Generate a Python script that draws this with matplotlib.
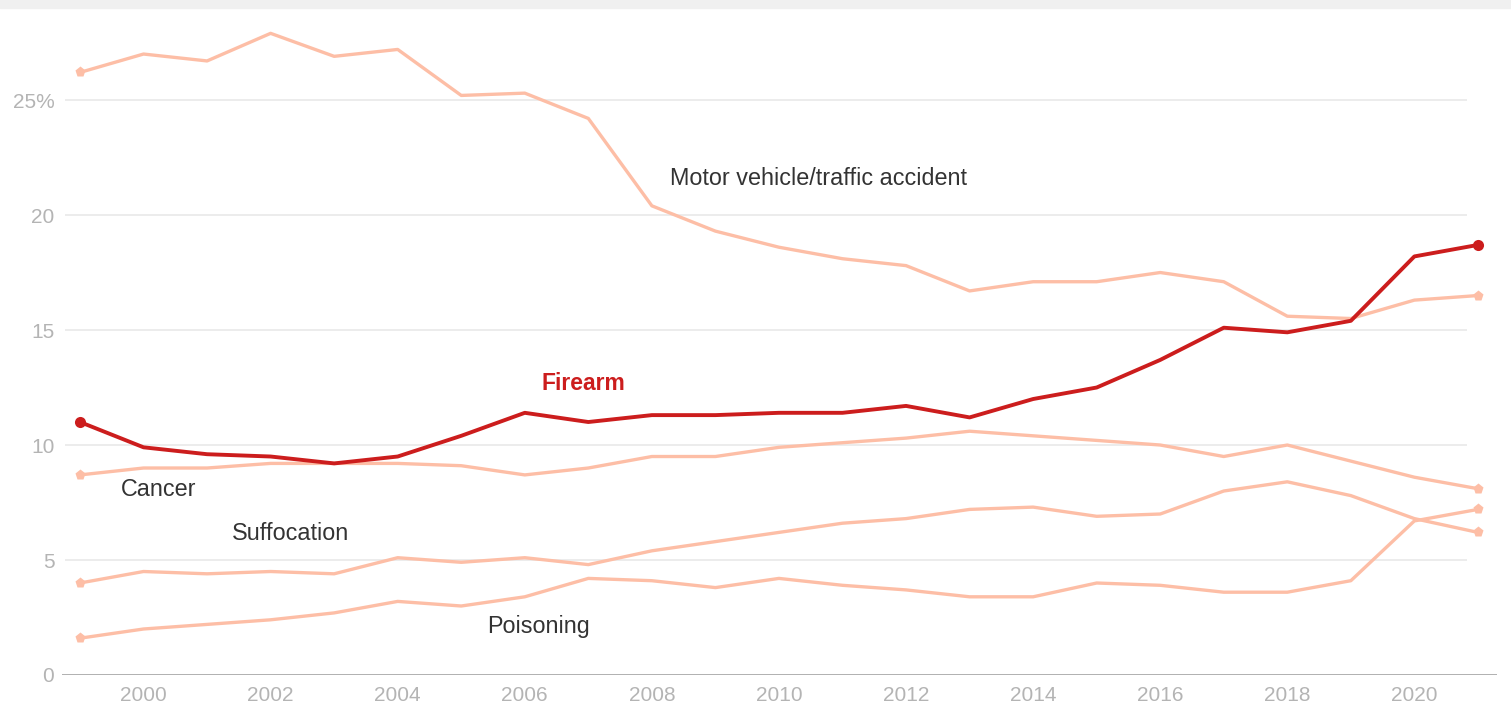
import matplotlib
matplotlib.use("Agg")
import matplotlib.pyplot as plt
from matplotlib.patches import Rectangle

# Leading causes of death, share of deaths (%) by year
years = list(range(1999, 2022))

firearm = [11.0, 9.9, 9.6, 9.5, 9.2, 9.5, 10.4, 11.4, 11.0, 11.3, 11.3, 11.4,
           11.4, 11.7, 11.2, 12.0, 12.5, 13.7, 15.1, 14.9, 15.4, 18.2, 18.7]
motor_vehicle = [26.2, 27.0, 26.7, 27.9, 26.9, 27.2, 25.2, 25.3, 24.2, 20.4,
                 19.3, 18.6, 18.1, 17.8, 16.7, 17.1, 17.1, 17.5, 17.1, 15.6,
                 15.5, 16.3, 16.5]
cancer = [8.7, 9.0, 9.0, 9.2, 9.2, 9.2, 9.1, 8.7, 9.0, 9.5, 9.5, 9.9,
          10.1, 10.3, 10.6, 10.4, 10.2, 10.0, 9.5, 10.0, 9.3, 8.6, 8.1]
suffocation = [4.0, 4.5, 4.4, 4.5, 4.4, 5.1, 4.9, 5.1, 4.8, 5.4, 5.8, 6.2,
               6.6, 6.8, 7.2, 7.3, 6.9, 7.0, 8.0, 8.4, 7.8, 6.8, 6.2]
poisoning = [1.6, 2.0, 2.2, 2.4, 2.7, 3.2, 3.0, 3.4, 4.2, 4.1, 3.8, 4.2,
             3.9, 3.7, 3.4, 3.4, 4.0, 3.9, 3.6, 3.6, 4.1, 6.7, 7.2]

y_ticks = [0, 5, 10, 15, 20, 25]
y_tick_labels = ["0", "5", "10", "15", "20", "25%"]
x_ticks = list(range(2000, 2021, 2))

LIGHT = "#fdbea6"
RED = "#cc1d1d"
GRID = "#ebebeb"
TICK = "#b4b4b4"
TEXT = "#333333"
LABEL_FONT = ["Liberation Sans", "DejaVu Sans"]

plt.rcParams["font.family"] = ["Liberation Sans", "DejaVu Sans"]

W, H = 1511, 708
fig = plt.figure(figsize=(W / 100, H / 100), dpi=100)
ax = fig.add_axes([62 / W, (H - 675) / H, (1497 - 62) / W, (675 - 20) / H])
ax.set_xlim(1998.717, 2021.30)
ax.set_ylim(0, 28.48)

# faint band at the very top of the graphic
fig.patches.append(Rectangle((0, 1 - 8 / H), 1, 8 / H, transform=fig.transFigure,
                             color="#f0f0f0", zorder=0))

for yv in y_ticks[1:]:
    ax.hlines(yv, 1998.76, 2020.83, color=GRID, lw=1.3, zorder=0)
ax.axhline(0, color="#aaaaaa", lw=1.3, zorder=1)

for series in [motor_vehicle, cancer, suffocation, poisoning]:
    ax.plot(years, series, color=LIGHT, lw=2.4, solid_joinstyle="round", zorder=2)
    ax.plot([years[0], years[-1]], [series[0], series[-1]], "p", color=LIGHT,
            ms=8, mec="none", zorder=2)

ax.plot(years, firearm, color=RED, lw=2.8, solid_joinstyle="round", zorder=3)
ax.plot([years[0], years[-1]], [firearm[0], firearm[-1]], "o", color=RED,
        ms=8, mec="none", zorder=3)

# direct labels
ax.text(2008.29, 21.58, "Motor vehicle/traffic accident", fontsize=16.8,
        color=TEXT, family=LABEL_FONT, va="center")
ax.text(2006.26, 12.68, "Firearm", fontsize=16.5, color=RED, fontweight="bold",
        family=LABEL_FONT, va="center")
ax.text(1999.65, 8.08, "Cancer", fontsize=16.8, color=TEXT,
        family=LABEL_FONT, va="center")
ax.text(2001.39, 6.14, "Suffocation", fontsize=16.8, color=TEXT,
        family=LABEL_FONT, va="center")
ax.text(2005.41, 2.1, "Poisoning", fontsize=16.8, color=TEXT,
        family=LABEL_FONT, va="center")

ax.set_yticks(y_ticks)
ax.set_yticklabels(y_tick_labels)
ax.set_xticks(x_ticks)
ax.set_xticklabels([str(x) for x in x_ticks])
ax.tick_params(axis="both", length=0, colors=TICK, labelsize=15)
ax.tick_params(axis="y", pad=5.5)
ax.tick_params(axis="x", pad=8)
for s in ax.spines.values():
    s.set_visible(False)

fig.savefig("out.png", dpi=100, facecolor="white")
